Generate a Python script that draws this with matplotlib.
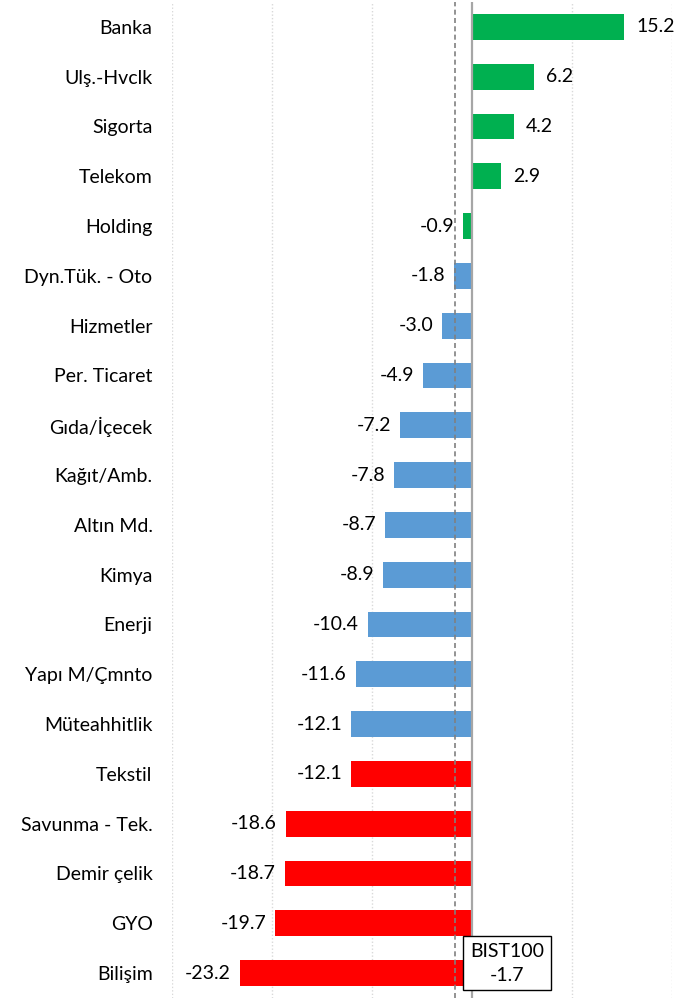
#!/usr/bin/env python3

import matplotlib.pyplot as plt
import numpy as np

plt.rcParams["font.family"] = ["Lato", "DejaVu Sans"]

sectors = [
    "Banka", "Ulş.-Hvclk", "Sigorta", "Telekom", "Holding",
    "Dyn.Tük. - Oto", "Hizmetler", "Per. Ticaret", "Gıda/İçecek", "Kağıt/Amb.",
    "Altın Md.", "Kimya", "Enerji", "Yapı M/Çmnto", "Müteahhitlik",
    "Tekstil", "Savunma - Tek.", "Demir çelik", "GYO", "Bilişim",
]
returns = [
    15.2, 6.2, 4.2, 2.9, -0.9,
    -1.8, -3.0, -4.9, -7.2, -7.8,
    -8.7, -8.9, -10.4, -11.6, -12.1,
    -12.1, -18.6, -18.7, -19.7, -23.2,
]
groups = ["top"] * 5 + ["mid"] * 10 + ["low"] * 5
bist100 = -1.7

GROUP_COLORS = {"top": "#00B050", "mid": "#5B9BD5", "low": "#FF0000"}
FONT_SIZE = 14

fig = plt.figure(figsize=(6.94, 10), dpi=100)
ax = fig.add_axes([172 / 694, 2 / 1000, 500 / 694, 996 / 1000])

y = np.arange(len(sectors))
colors = [GROUP_COLORS[g] for g in groups]
ax.barh(y, returns, height=0.52, color=colors, zorder=3)

ax.set_xlim(-30, 20)
ax.set_ylim(len(sectors) - 0.5, -0.5)
ax.set_yticks(y, sectors)
ax.tick_params(axis="y", length=0, pad=14, labelsize=FONT_SIZE)
ax.set_xticks([-30, -20, -10, 10, 20])
ax.tick_params(axis="x", length=0, labelbottom=False)
ax.grid(axis="x", color="#D9D9D9", linestyle=(0, (1, 1.5)), linewidth=1, zorder=0)
for spine in ax.spines.values():
    spine.set_visible(False)

ax.axvline(0, color="#A6A6A6", linewidth=1.6, zorder=4)
ax.axvline(bist100, color="#808080", linewidth=1.2, linestyle=(0, (3, 2)), zorder=4)

for row, value in zip(y, returns):
    offset = 1.2 if value >= 0 else -0.9
    ax.text(value + offset, row, f"{value:.1f}", ha="left" if value >= 0 else "right",
            va="center", fontsize=FONT_SIZE, zorder=5)

ax.text(3.5, 18.8, f"BIST100\n{bist100:.1f}", ha="center", va="center", fontsize=FONT_SIZE,
        linespacing=1.5, zorder=6,
        bbox=dict(boxstyle="square,pad=0.35", facecolor="white", edgecolor="black", linewidth=1))

fig.savefig("out.png", dpi=100)
